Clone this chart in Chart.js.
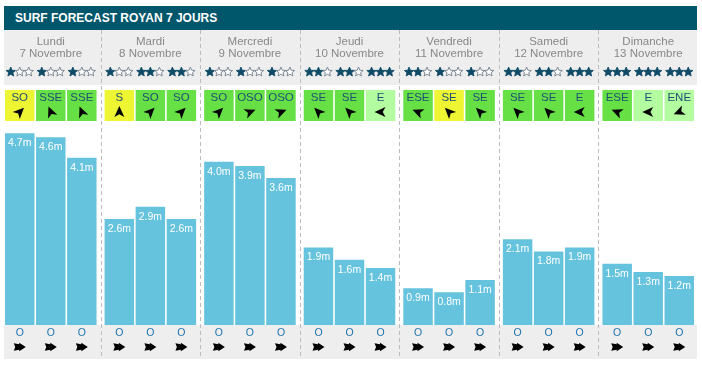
<!DOCTYPE html>
<html>
<head>
<meta charset="UTF-8">
<title>Surf forecast Royan 7 jours</title>
<script src="https://cdn.jsdelivr.net/npm/chart.js"></script>
<style>
  body { margin: 0; background: #fff; }
  #wrap { position: relative; width: 702px; height: 366px; }
  #titre {
    position: absolute; left: 4px; top: 6px; width: 682px; height: 24px;
    padding-left: 11px; background: #00566a; color: #fff;
    font: bold 12px "Liberation Sans", Arial, sans-serif; line-height: 24px;
  }
</style>
</head>
<body>
<div id="wrap">
  <canvas id="surf"></canvas>
  <div id="titre">SURF FORECAST ROYAN 7 JOURS</div>
</div>
<script>
// jours et dates
const jours = ['Lundi', 'Mardi', 'Mercredi', 'Jeudi', 'Vendredi', 'Samedi', 'Dimanche'];
const dates = ['7 Novembre', '8 Novembre', '9 Novembre', '10 Novembre', '11 Novembre', '12 Novembre', '13 Novembre'];

// hauteur des vagues (m), 3 créneaux par jour
const hauteur1 = [4.7, 2.6, 4.0, 1.9, 0.9, 2.1, 1.5];
const hauteur2 = [4.6, 2.9, 3.9, 1.6, 0.8, 1.8, 1.3];
const hauteur3 = [4.1, 2.6, 3.6, 1.4, 1.1, 1.9, 1.2];

// étoiles (sur 3)
const etoiles1 = [1, 1, 1, 2, 2, 2, 3];
const etoiles2 = [1, 2, 1, 2, 1, 2, 3];
const etoiles3 = [1, 2, 1, 3, 1, 3, 3];

// vent : direction et force (1 faible, 2 moyen, 3 fort)
const vent1 = ['SO', 'S', 'SO', 'SE', 'ESE', 'SE', 'ESE'];
const vent2 = ['SSE', 'SO', 'OSO', 'SE', 'SE', 'SE', 'E'];
const vent3 = ['SSE', 'SO', 'OSO', 'E', 'SE', 'E', 'ENE'];
const force1 = [3, 3, 2, 2, 2, 2, 2];
const force2 = [2, 2, 2, 2, 3, 2, 1];
const force3 = [2, 2, 2, 1, 2, 2, 1];

// direction de la houle
const houle1 = ['O', 'O', 'O', 'O', 'O', 'O', 'O'];
const houle2 = ['O', 'O', 'O', 'O', 'O', 'O', 'O'];
const houle3 = ['O', 'O', 'O', 'O', 'O', 'O', 'O'];

const etoiles = [etoiles1, etoiles2, etoiles3];
const vents = [vent1, vent2, vent3];
const forces = [force1, force2, force3];
const houles = [houle1, houle2, houle3];

const couleurVent = { 1: '#b4fca0', 2: '#66e045', 3: '#eef532' };
const angles = { N: 0, NNE: 22.5, NE: 45, ENE: 67.5, E: 90, ESE: 112.5, SE: 135, SSE: 157.5,
  S: 180, SSO: 202.5, SO: 225, OSO: 247.5, O: 270, ONO: 292.5, NO: 315, NNO: 337.5 };
const police = '"Liberation Sans", Arial, sans-serif';

function etoile(ctx, x, y, pleine) {
  ctx.beginPath();
  for (let i = 0; i < 10; i++) {
    const r = i % 2 === 0 ? 4.9 : 2.2;
    const a = -Math.PI / 2 + i * Math.PI / 5;
    const px = x + r * Math.cos(a), py = y + r * Math.sin(a);
    if (i === 0) ctx.moveTo(px, py); else ctx.lineTo(px, py);
  }
  ctx.closePath();
  ctx.fillStyle = pleine ? '#0f4a66' : '#ffffff';
  ctx.fill();
  ctx.strokeStyle = pleine ? '#0f4a66' : '#6f7e8c';
  ctx.lineWidth = 0.9;
  ctx.stroke();
}

function flecheVent(ctx, x, y, dir) {
  ctx.save();
  ctx.translate(x, y);
  ctx.rotate((angles[dir] + 180) * Math.PI / 180);
  ctx.beginPath();
  ctx.moveTo(0, -6);
  ctx.lineTo(5, 5);
  ctx.lineTo(0, 2.2);
  ctx.lineTo(-5, 5);
  ctx.closePath();
  ctx.fillStyle = '#000';
  ctx.fill();
  ctx.restore();
}

function flecheHoule(ctx, x, y, dir) {
  ctx.save();
  ctx.translate(x, y);
  ctx.rotate((angles[dir] + 180 - 90) * Math.PI / 180);
  ctx.beginPath();
  ctx.moveTo(-6, -3.8);
  ctx.lineTo(-0.5, -2.8);
  ctx.lineTo(-0.5, -4.2);
  ctx.lineTo(6, 0);
  ctx.lineTo(-0.5, 4.2);
  ctx.lineTo(-0.5, 2.8);
  ctx.lineTo(-6, 3.8);
  ctx.lineTo(-4.5, 0);
  ctx.closePath();
  ctx.fillStyle = '#000';
  ctx.fill();
  ctx.restore();
}

const decor = {
  id: 'decor',
  beforeDatasetsDraw(chart) {
    const ctx = chart.ctx;
    const x = chart.scales.x;
    ctx.save();
    // fonds gris
    ctx.fillStyle = '#eeeeee';
    ctx.fillRect(4, 30, 693, 55);
    ctx.fillRect(4, 325, 693, 34);

    // séparateurs pointillés
    ctx.strokeStyle = '#bbbbbb';
    ctx.lineWidth = 1;
    ctx.setLineDash([4, 3]);
    for (let i = 0; i < jours.length - 1; i++) {
      const sx = Math.round((x.getPixelForValue(i) + x.getPixelForValue(i + 1)) / 2) + 0.5;
      ctx.beginPath();
      ctx.moveTo(sx, 30);
      ctx.lineTo(sx, 359);
      ctx.stroke();
    }
    ctx.setLineDash([]);

    // jours
    ctx.fillStyle = '#888888';
    ctx.font = '11.5px ' + police;
    ctx.textAlign = 'center';
    ctx.textBaseline = 'middle';
    jours.forEach((j, i) => {
      const cx = x.getPixelForValue(i);
      ctx.fillText(j, cx, 41.5);
      ctx.fillText(dates[i], cx, 53.5);
    });

    // étoiles, vent, houle par barre
    chart.data.datasets.forEach((ds, d) => {
      chart.getDatasetMeta(d).data.forEach((bar, i) => {
        const n = etoiles[d][i];
        for (let k = 0; k < 3; k++) etoile(ctx, bar.x - 9 + k * 9, 72, k < n);

        const w = bar.width;
        ctx.fillStyle = couleurVent[forces[d][i]];
        ctx.fillRect(bar.x - w / 2, 90, w, 31);
        ctx.fillStyle = '#1d4f77';
        ctx.font = '11.5px ' + police;
        ctx.fillText(vents[d][i], bar.x, 97.5);
        flecheVent(ctx, bar.x, 112, vents[d][i]);

        ctx.fillStyle = '#1f74ad';
        ctx.font = '10.5px ' + police;
        ctx.fillText(houles[d][i], bar.x, 333.5);
        flecheHoule(ctx, bar.x, 347, houles[d][i]);
      });
    });
    ctx.restore();
  },
  afterDatasetsDraw(chart) {
    const ctx = chart.ctx;
    ctx.save();
    ctx.fillStyle = '#ffffff';
    ctx.font = '10.5px ' + police;
    ctx.textAlign = 'center';
    ctx.textBaseline = 'middle';
    chart.data.datasets.forEach((ds, d) => {
      chart.getDatasetMeta(d).data.forEach((bar, i) => {
        ctx.fillText(ds.data[i].toFixed(1) + 'm', bar.x, bar.y + 10);
      });
    });
    ctx.restore();
  }
};

const serie = (label, data) => ({
  label: label, data: data, backgroundColor: '#66c3de', borderWidth: 0,
  categoryPercentage: 0.935, barPercentage: 0.95
});

new Chart(document.getElementById('surf'), {
  type: 'bar',
  data: {
    labels: jours,
    datasets: [serie('Matin', hauteur1), serie('Midi', hauteur2), serie('Soir', hauteur3)]
  },
  options: {
    responsive: true,
    maintainAspectRatio: false,
    animation: false,
    layout: { padding: { top: 121, bottom: 41, left: 1, right: 4 } },
    plugins: { legend: { display: false }, tooltip: { enabled: false } },
    scales: {
      x: { display: false },
      y: { display: false, min: 0, max: 5 }
    }
  },
  plugins: [decor]
});
</script>
</body>
</html>
